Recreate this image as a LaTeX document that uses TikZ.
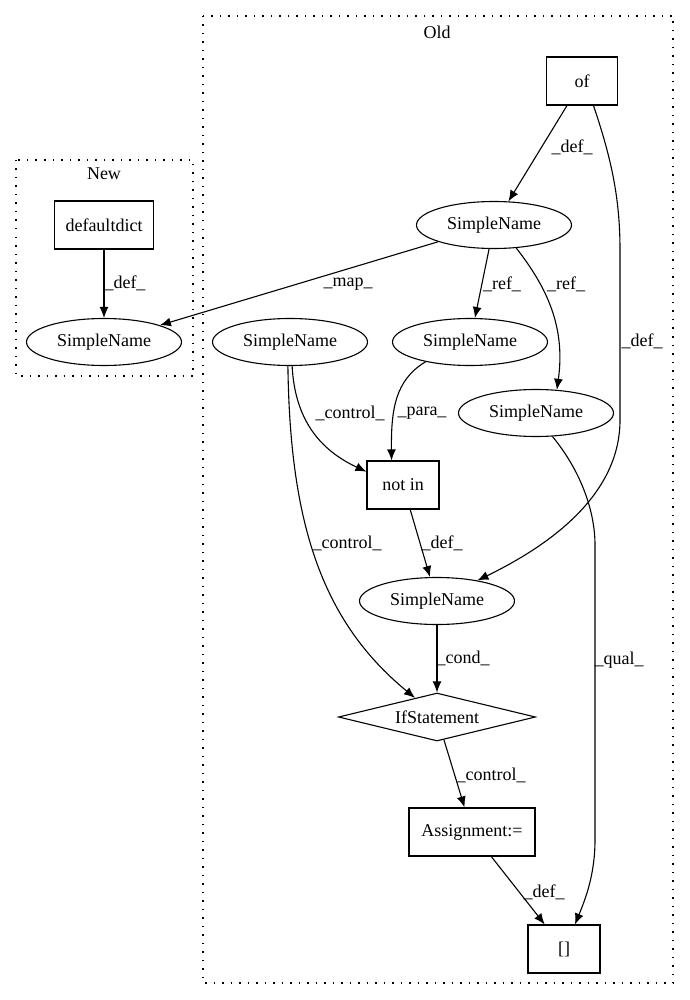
\documentclass[tikz,border=0pt]{standalone}
\usepackage{fontspec}
\setmainfont{Liberation Serif}
\usetikzlibrary{shapes.geometric, arrows.meta}

\begin{document}
\begin{tikzpicture}[x=1pt, y=-1pt, font=\fontsize{18}{20}\selectfont, line width=1.1pt,
    box/.style={draw, rectangle, minimum height=48pt, inner sep=0pt},
    sname/.style={draw, ellipse, minimum width=155pt, minimum height=47pt, inner sep=0pt},
    cond/.style={draw, diamond, aspect=4, minimum width=197pt, minimum height=48pt, inner sep=0pt},
    edge/.style={-{Latex[length=11pt, width=9pt]}},
    lbl/.style={inner sep=0pt},
    cluster/.style={draw, dash pattern=on 1.5pt off 7pt}]
    \useasboundingbox (0,0) rectangle (689,1000);

    \draw[cluster] (203,16) rectangle (673,983);
    \draw[cluster] (16,160) rectangle (193,376);
    \node[lbl] (Old) at (437,32) {Old};
    \node[lbl] (New) at (104,174) {New};

    \node[box, minimum width=71pt] (Of) at (582,81) {of};
    \node[box, minimum width=99pt] (DD) at (104,225) {defaultdict};
    \node[sname] (SN) at (104,342) {SimpleName};
    \node[sname] (S0) at (494,225) {SimpleName};
    \node[sname] (S1) at (290,342) {SimpleName};
    \node[sname] (S2) at (470,342) {SimpleName};
    \node[sname] (S3) at (536,413) {SimpleName};
    \node[box, minimum width=72pt] (NotIn) at (403,485) {not in};
    \node[sname] (S4) at (437,601) {SimpleName};
    \node[cond] (If) at (437,717) {IfStatement};
    \node[box, minimum width=126pt] (Asg) at (472,832) {Assignment:=};
    \node[box, minimum width=72pt] (Idx) at (564,949) {[]};

    \draw[edge] (Of) -- (S0);
    \draw[edge] (DD) -- (SN);
    \draw[edge] (S0) -- (SN);
    \draw[edge] (S0) -- (S2);
    \draw[edge] (S0.-46) .. controls (545,285) and (566,325) .. (S3.48);
    \draw[edge] (Of.-65) .. controls (612,160) and (620,200) .. (620,250)
        -- (620,420) .. controls (620,500) and (540,550) .. (S4.27);
    \draw[edge] (S1.-85) .. controls (295,420) and (320,450) .. (NotIn.160);
    \draw[edge] (S2.-156) .. controls (395,380) and (391,410) .. (NotIn.115);
    \draw[edge] (S1.-95) .. controls (290,520) and (320,620) .. (If.139);
    \draw[edge] (NotIn) -- (S4);
    \draw[edge] (S4) -- (If);
    \draw[edge] (S3.-55) .. controls (580,470) and (595,510) .. (595,545)
        -- (595,840) .. controls (595,875) and (585,900) .. (Idx.66);
    \draw[edge] (If) -- (Asg);
    \draw[edge] (Asg) -- (Idx);

    \node[lbl] (L1) at (572,147) {\_def\_};
    \node[lbl] (L2) at (125,283) {\_def\_};
    \node[lbl] (L3) at (348,284) {\_map\_};
    \node[lbl] (L4) at (502,284) {\_ref\_};
    \node[lbl] (L5) at (566,284) {\_ref\_};
    \node[lbl] (L6) at (642,341) {\_def\_};
    \node[lbl] (L7) at (350,413) {\_control\_};
    \node[lbl] (L8) at (422,413) {\_para\_};
    \node[lbl] (L9) at (347,543) {\_control\_};
    \node[lbl] (L10) at (442,543) {\_def\_};
    \node[lbl] (L11) at (463,658) {\_cond\_};
    \node[lbl] (L12) at (619,660) {\_qual\_};
    \node[lbl] (L13) at (491,775) {\_control\_};
    \node[lbl] (L14) at (544,892) {\_def\_};
\end{tikzpicture}
\end{document}
